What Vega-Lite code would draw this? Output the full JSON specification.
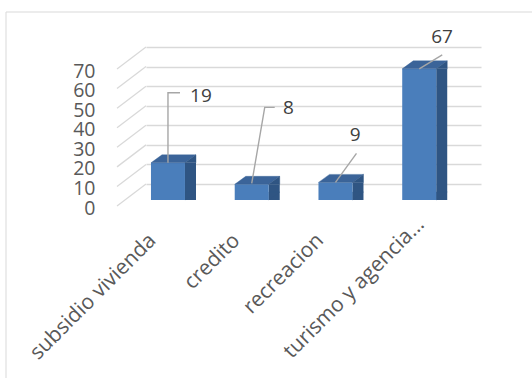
{
  "$schema": "https://vega.github.io/schema/vega-lite/v6.json",
  "width": 335,
  "height": 137,
  "autosize": {"type": "none"},
  "padding": {"left": 146, "top": 47, "right": 51, "bottom": 194},
  "background": "#ffffff",
  "config": {
    "view": {"stroke": null},
    "font": "Open Sans",
    "text": {"font": "Open Sans"}
  },
  "datasets": {
    "servicios": [
      {"categoria": "subsidio vivienda", "valor": 19},
      {"categoria": "credito", "valor": 8},
      {"categoria": "recreacion", "valor": 9},
      {"categoria": "turismo y agencia…", "valor": 67}
    ],
    "marcas": [
      {"valor": 0}, {"valor": 10}, {"valor": 20}, {"valor": 30},
      {"valor": 40}, {"valor": 50}, {"valor": 60}, {"valor": 70}
    ]
  },
  "data": {"name": "servicios"},
  "encoding": {
    "x": {
      "field": "categoria",
      "type": "nominal",
      "sort": null,
      "scale": {"paddingInner": 0.594, "paddingOuter": 0.297},
      "axis": {
        "title": null,
        "domain": false,
        "ticks": false,
        "tickSize": 0,
        "grid": false,
        "labelAngle": -45,
        "labelAlign": "right",
        "labelBaseline": "middle",
        "labelPadding": {"condition": {"test": "datum.value === 'turismo y agencia…'", "value": 37}, "value": 53},
        "labelOffset": {"condition": {"test": "datum.value === 'turismo y agencia…'", "value": -18}, "value": -35},
        "labelFontSize": 21,
        "labelFont": "Open Sans",
        "labelColor": "#595959",
        "labelLimit": 0,
        "labelOverlap": false
      }
    },
    "y": {
      "field": "valor",
      "type": "quantitative",
      "scale": {"domain": [0, 70], "nice": false},
      "axis": {
        "title": null,
        "values": [0, 10, 20, 30, 40, 50, 60, 70],
        "domain": false,
        "ticks": false,
        "tickSize": 0,
        "grid": true,
        "gridColor": "#d9d9d9",
        "gridWidth": 1.3,
        "labelPadding": 51,
        "labelOffset": 24,
        "labelFontSize": 19.5,
        "labelFont": "Open Sans",
        "labelColor": "#595959",
        "labelOverlap": false,
        "labelBound": false,
        "labelFlush": false
      }
    }
  },
  "layer": [
    {
      "data": {"values": [{}]},
      "mark": {"type": "rect", "fill": null, "stroke": "#d9d9d9", "strokeWidth": 1},
      "encoding": {
        "x": {"value": -140},
        "x2": {"value": 420},
        "y": {"value": -35},
        "y2": {"value": 360}
      }
    },
    {
      "data": {"name": "marcas"},
      "mark": {"type": "rule", "color": "#d9d9d9", "strokeWidth": 1.3, "y2Offset": 22},
      "encoding": {
        "x": {"value": 0},
        "x2": {"value": -29},
        "y2": {"field": "valor"}
      }
    },
    {
      "mark": {"type": "bar", "width": 11, "xOffset": 2.6, "yOffset": 16, "y2Offset": 8, "color": "#2f5583"}
    },
    {
      "mark": {
        "type": "point",
        "shape": "M17,-8L17,0L28,-8Z",
        "size": 4,
        "filled": true,
        "opacity": 1,
        "color": "#2f5583",
        "stroke": "#2f5583",
        "strokeWidth": 0.4,
        "xOffset": -19.9,
        "yOffset": 16
      },
      "encoding": {"y": {"datum": 0}}
    },
    {
      "mark": {"type": "bar", "xOffset": -19.9, "yOffset": 16, "y2Offset": 16, "color": "#4a7ebb"}
    },
    {
      "mark": {
        "type": "point",
        "shape": "M-17,0L-6,-8L28,-8L17,0Z",
        "size": 4,
        "filled": true,
        "opacity": 1,
        "color": "#3b6499",
        "stroke": "#3b6499",
        "strokeWidth": 0.4,
        "xOffset": -19.9,
        "yOffset": 16
      }
    },
    {
      "mark": {
        "type": "point",
        "shape": "M17,0L28,-8L28,0Z",
        "size": 4,
        "filled": true,
        "opacity": 1,
        "color": "#2f5583",
        "stroke": "#2f5583",
        "strokeWidth": 0.4,
        "xOffset": -19.9,
        "yOffset": 16
      }
    },
    {
      "mark": {
        "type": "point",
        "size": 4,
        "filled": false,
        "opacity": 1,
        "stroke": "#a6a6a6",
        "strokeWidth": 1.4,
        "xOffset": -19.9,
        "yOffset": 16
      },
      "encoding": {
        "shape": {
          "field": "categoria",
          "type": "nominal",
          "legend": null,
          "scale": {
            "domain": ["subsidio vivienda", "credito", "recreacion", "turismo y agencia…"],
            "range": ["M0,0L0,-70L12,-70", "M0,-1L13,-77L23,-77", "M0,0L21,-29", "M0,0L23,-14"]
          }
        }
      }
    },
    {
      "transform": [{"filter": "datum.categoria === 'subsidio vivienda'"}],
      "mark": {"type": "text", "dx": 13.1, "dy": -51, "fontSize": 19, "color": "#404040", "align": "center", "baseline": "middle"},
      "encoding": {"text": {"field": "valor", "type": "quantitative"}}
    },
    {
      "transform": [{"filter": "datum.categoria === 'credito'"}],
      "mark": {"type": "text", "dx": 16.9, "dy": -60.3, "fontSize": 19, "color": "#404040", "align": "center", "baseline": "middle"},
      "encoding": {"text": {"field": "valor", "type": "quantitative"}}
    },
    {
      "transform": [{"filter": "datum.categoria === 'recreacion'"}],
      "mark": {"type": "text", "dx": -0.2, "dy": -31.4, "fontSize": 19, "color": "#404040", "align": "center", "baseline": "middle"},
      "encoding": {"text": {"field": "valor", "type": "quantitative"}}
    },
    {
      "transform": [{"filter": "datum.categoria === 'turismo y agencia…'"}],
      "mark": {"type": "text", "dx": 2.9, "dy": -16.2, "fontSize": 19, "color": "#404040", "align": "center", "baseline": "middle"},
      "encoding": {"text": {"field": "valor", "type": "quantitative"}}
    }
  ]
}
